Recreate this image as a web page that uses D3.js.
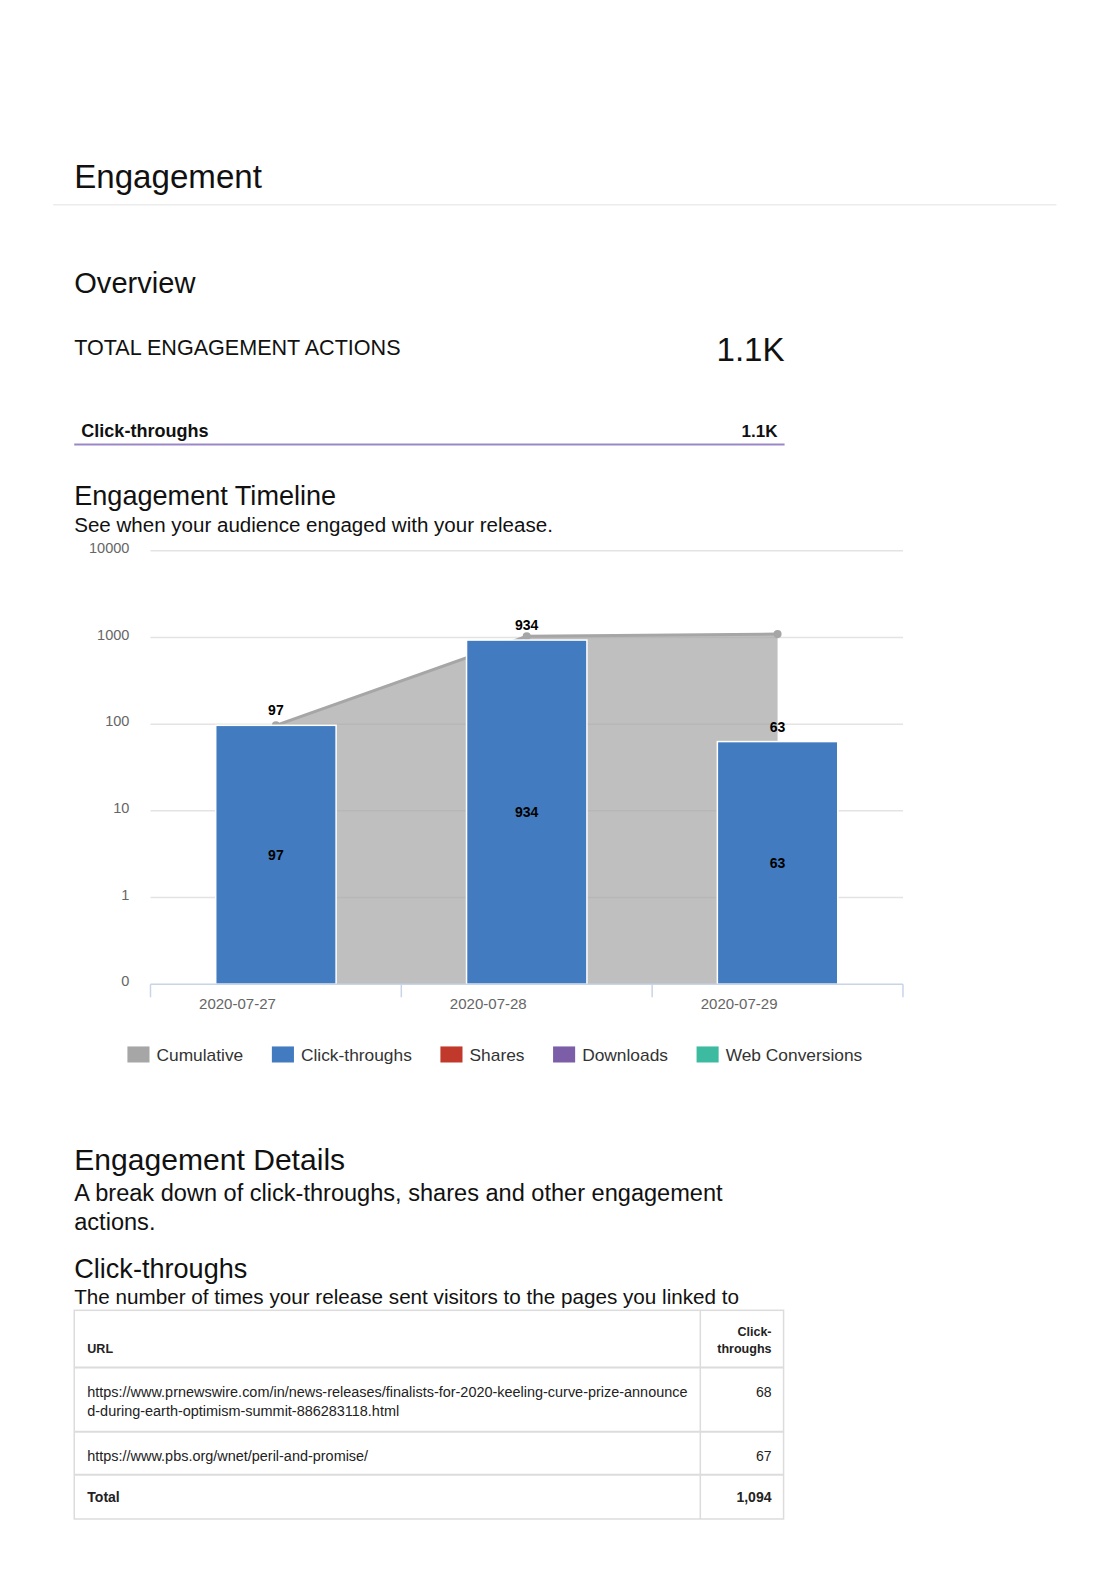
<!DOCTYPE html>
<html>
<head>
<meta charset="utf-8">
<script src="https://cdn.jsdelivr.net/npm/d3@7"></script>
<style>
  html, body { margin: 0; padding: 0; background: #fff; overflow: hidden; }
  svg { display: block; }
  svg text { font-family: "Liberation Sans", Arial, sans-serif; }
</style>
</head>
<body>
<svg id="page" width="1112" height="1573"></svg>
<script>
// chart data
const dates = ["2020-07-27", "2020-07-28", "2020-07-29"];
const clickThroughs = [97, 934, 63];
const cumulative = [97, 1031, 1094];
const yTicks = [0, 1, 10, 100, 1000, 10000];
const legendLabels = ["Cumulative", "Click-throughs", "Shares", "Downloads", "Web Conversions"];
const legendColors = ["#a6a6a6", "#427bbf", "#c0392b", "#7b5ea7", "#3dbba1"];

// table data
const urls = [
  ["https://www.prnewswire.com/in/news-releases/finalists-for-2020-keeling-curve-prize-announce",
   "d-during-earth-optimism-summit-886283118.html"],
  ["https://www.pbs.org/wnet/peril-and-promise/"]
];
const urlClicks = ["68", "67"];
const totalClicks = "1,094";

const svg = d3.select("#page").append("g").attr("transform", "scale(1.0033)");

// page headings
function txt(x, y, s, size, opts = {}) {
  return svg.append("text")
    .attr("x", x).attr("y", y)
    .attr("font-size", size)
    .attr("font-weight", opts.bold ? "bold" : null)
    .attr("text-anchor", opts.anchor || "start")
    .attr("fill", opts.fill || "#111")
    .text(s);
}

txt(74, 187, "Engagement", 33);
svg.append("line").attr("x1", 53).attr("x2", 1053).attr("y1", 204).attr("y2", 204)
  .attr("stroke", "#ececec").attr("stroke-width", 1.5);
txt(74, 292, "Overview", 29);
txt(74, 354, "TOTAL ENGAGEMENT ACTIONS", 21.5);
txt(782, 360, "1.1K", 33, { anchor: "end" });
txt(81, 436, "Click-throughs", 18, { bold: true });
txt(775, 436, "1.1K", 17, { bold: true, anchor: "end" });
svg.append("line").attr("x1", 74).attr("x2", 782).attr("y1", 443).attr("y2", 443)
  .attr("stroke", "#9b87c5").attr("stroke-width", 2);
txt(74, 503, "Engagement Timeline", 27);
txt(74, 530, "See when your audience engaged with your release.", 20.5);

// ---- chart ----
const x = d3.scaleBand().domain(dates).range([150, 900]);
const y = d3.scaleLog().domain([0.1, 10000]).range([981, 549]);
const yv = v => y(v <= 0 ? 0.1 : v);
const cx = d => x(d) + x.bandwidth() / 2;
const barW = x.bandwidth() * 0.48;

const grid = svg.append("g");
grid.selectAll("line").data(yTicks.slice(1)).join("line")
  .attr("x1", 150).attr("x2", 900)
  .attr("y1", d => yv(d)).attr("y2", d => yv(d))
  .attr("stroke", "#e3e3e3").attr("stroke-width", 1.5);
grid.selectAll("text").data(yTicks).join("text")
  .attr("x", 129).attr("y", d => yv(d) + 2)
  .attr("text-anchor", "end").attr("font-size", 14.5).attr("fill", "#666")
  .text(d => d);

// cumulative area
const cumPts = dates.map((d, i) => ({ d, v: cumulative[i] }));
svg.append("path").datum(cumPts)
  .attr("d", d3.area().x(p => cx(p.d)).y0(yv(0)).y1(p => yv(p.v)))
  .attr("fill", "#a6a6a6").attr("fill-opacity", 0.72);
svg.append("path").datum(cumPts)
  .attr("d", d3.line().x(p => cx(p.d)).y(p => yv(p.v)))
  .attr("fill", "none").attr("stroke", "#a6a6a6").attr("stroke-width", 3);
svg.selectAll(".cumdot").data(cumPts).join("circle")
  .attr("cx", p => cx(p.d)).attr("cy", p => yv(p.v)).attr("r", 4)
  .attr("fill", "#a6a6a6");

// click-through bars
const bars = dates.map((d, i) => ({ d, v: clickThroughs[i] }));
svg.selectAll(".bar").data(bars).join("rect")
  .attr("x", b => cx(b.d) - barW / 2).attr("width", barW)
  .attr("y", b => yv(b.v)).attr("height", b => yv(0) - yv(b.v))
  .attr("fill", "#427bbf").attr("stroke", "#fff").attr("stroke-width", 1.5);

// data labels
svg.selectAll(".lblTop").data(bars).join("text")
  .attr("x", b => cx(b.d)).attr("y", b => yv(b.v) - 10)
  .attr("text-anchor", "middle").attr("font-size", 14).attr("font-weight", "bold")
  .attr("fill", "#000").text(b => b.v);
svg.selectAll(".lblMid").data(bars).join("text")
  .attr("x", b => cx(b.d)).attr("y", b => (yv(b.v) + yv(0)) / 2 + 5)
  .attr("text-anchor", "middle").attr("font-size", 14).attr("font-weight", "bold")
  .attr("fill", "#000").text(b => b.v);

// x axis
const xa = svg.append("g");
xa.append("line").attr("x1", 150).attr("x2", 900).attr("y1", yv(0)).attr("y2", yv(0))
  .attr("stroke", "#c8d4e8").attr("stroke-width", 1.5);
xa.selectAll(".tick").data([150, 400, 650, 900]).join("line")
  .attr("x1", d => d).attr("x2", d => d).attr("y1", yv(0)).attr("y2", yv(0) + 13)
  .attr("stroke", "#c8d4e8").attr("stroke-width", 1.5);
xa.selectAll("text").data(dates).join("text")
  .attr("x", d => cx(d)).attr("y", yv(0) + 25)
  .attr("text-anchor", "end").attr("font-size", 15).attr("fill", "#666")
  .text(d => d);

// legend
let lx = 127;
legendLabels.forEach((lab, i) => {
  const g = svg.append("g");
  g.append("rect").attr("x", lx).attr("y", 1043).attr("width", 22).attr("height", 16)
    .attr("fill", legendColors[i]);
  const t = g.append("text").attr("x", lx + 29).attr("y", 1058)
    .attr("font-size", 17.3).attr("fill", "#333").text(lab);
  lx += 29 + t.node().getComputedTextLength() + 28.5;
});

// ---- details ----
txt(74, 1166, "Engagement Details", 30);
txt(74, 1197, "A break down of click-throughs, shares and other engagement", 23.5);
txt(74, 1226, "actions.", 23.5);
txt(74, 1274, "Click-throughs", 27);
txt(74, 1300, "The number of times your release sent visitors to the pages you linked to", 20.6);

// table
const rowEdges = [1306, 1363, 1427, 1470, 1514];
const tb = svg.append("g");
tb.append("rect").attr("x", 74).attr("y", 1306).attr("width", 707).attr("height", 208)
  .attr("fill", "none").attr("stroke", "#dcdcdc").attr("stroke-width", 1.5);
tb.selectAll(".hl").data(rowEdges.slice(1, -1)).join("line")
  .attr("x1", 74).attr("x2", 781).attr("y1", d => d).attr("y2", d => d)
  .attr("stroke", "#dcdcdc").attr("stroke-width", 2);
tb.append("line").attr("x1", 698).attr("x2", 698).attr("y1", 1306).attr("y2", 1514)
  .attr("stroke", "#dcdcdc").attr("stroke-width", 1.5);

txt(87, 1349, "URL", 12.5, { bold: true, fill: "#222" });
txt(769, 1332, "Click-", 12.5, { bold: true, fill: "#222", anchor: "end" });
txt(769, 1349, "throughs", 12.5, { bold: true, fill: "#222", anchor: "end" });

urls.forEach((lines, i) => {
  const top = rowEdges[i + 1];
  lines.forEach((ln, j) => txt(87, top + 29 + j * 19, ln, 14.4, { fill: "#222" }));
  txt(769, top + 29, urlClicks[i], 14, { fill: "#222", anchor: "end" });
});
txt(87, 1497, "Total", 14, { bold: true, fill: "#222" });
txt(769, 1497, totalClicks, 14, { bold: true, fill: "#222", anchor: "end" });
</script>
</body>
</html>
